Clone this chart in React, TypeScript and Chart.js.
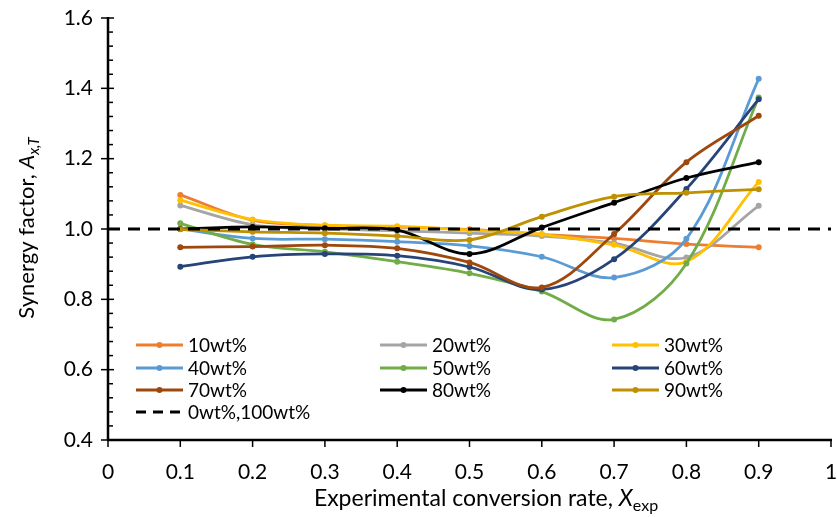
import React, { useEffect, useRef } from "react";
import { Chart, registerables } from "chart.js";

Chart.register(...registerables);

const xValues = [0.1, 0.2, 0.3, 0.4, 0.5, 0.6, 0.7, 0.8, 0.9];
const s10 = [1.097, 1.025, 1.010, 1.005, 0.999, 0.985, 0.973, 0.957, 0.948];
const s20 = [1.067, 1.012, 1.000, 0.995, 0.988, 0.980, 0.960, 0.919, 1.066];
const s30 = [1.082, 1.027, 1.011, 1.008, 0.997, 0.985, 0.955, 0.907, 1.134];
const s40 = [1.000, 0.973, 0.971, 0.964, 0.952, 0.921, 0.862, 0.972, 1.427];
const s50 = [1.016, 0.956, 0.935, 0.907, 0.874, 0.822, 0.743, 0.902, 1.374];
const s60 = [0.893, 0.921, 0.929, 0.924, 0.892, 0.828, 0.914, 1.114, 1.369];
const s70 = [0.948, 0.950, 0.954, 0.945, 0.905, 0.834, 0.986, 1.190, 1.322];
const s80 = [1.000, 1.006, 1.002, 0.997, 0.929, 1.004, 1.075, 1.145, 1.190];
const s90 = [0.999, 0.992, 0.988, 0.980, 0.969, 1.035, 1.092, 1.103, 1.113];
const refX = [0, 1];
const refY = [1.0, 1.0];

const seriesLabels = ["10wt%", "20wt%", "30wt%", "40wt%", "50wt%", "60wt%", "70wt%", "80wt%", "90wt%"];
const seriesData = [s10, s20, s30, s40, s50, s60, s70, s80, s90];
const seriesColors = ["#ED7D31", "#A5A5A5", "#FFC000", "#5B9BD5", "#70AD47", "#264478", "#9E480E", "#000000", "#BF9000"];
const refLabel = "0wt%,100wt%";

const FONT = "Lato, 'Open Sans', sans-serif";

const customPlugin = {
  id: "customAxesLegend",
  afterDraw(chart: any) {
    const ctx = chart.ctx;
    const ca = chart.chartArea;
    const xs = chart.scales.x;
    const ys = chart.scales.y;
    ctx.save();
    ctx.strokeStyle = "#000";
    ctx.lineCap = "butt";
    // axis lines
    ctx.lineWidth = 2.5;
    ctx.beginPath();
    ctx.moveTo(ca.left, ca.top - 1);
    ctx.lineTo(ca.left, ca.bottom);
    ctx.moveTo(ca.left - 1, ca.bottom);
    ctx.lineTo(ca.right + 1, ca.bottom);
    ctx.stroke();
    // y ticks
    ctx.lineWidth = 1.5;
    for (let i = 0; i <= 30; i++) {
      const v = 0.4 + i * 0.04;
      const py = ys.getPixelForValue(v);
      ctx.beginPath();
      if (i % 5 === 0) {
        ctx.moveTo(ca.left - 7, py);
        ctx.lineTo(ca.left + 6, py);
      } else {
        ctx.moveTo(ca.left, py);
        ctx.lineTo(ca.left + 5, py);
      }
      ctx.stroke();
    }
    // x ticks
    for (let i = 0; i <= 10; i++) {
      const px = xs.getPixelForValue(i / 10);
      ctx.beginPath();
      ctx.moveTo(px, ca.bottom);
      ctx.lineTo(px, ca.bottom + 7);
      ctx.stroke();
    }

    // x title
    ctx.fillStyle = "#000";
    ctx.textBaseline = "alphabetic";
    const xMain = "Experimental conversion rate, ";
    ctx.font = `23px ${FONT}`;
    const w1 = ctx.measureText(xMain).width;
    ctx.font = `italic 23px ${FONT}`;
    const w2 = ctx.measureText("X").width;
    ctx.font = `16px ${FONT}`;
    const w3 = ctx.measureText("exp").width;
    const total = w1 + w2 + w3;
    let sx = 486 - total / 2;
    const by = 506;
    ctx.textAlign = "left";
    ctx.font = `23px ${FONT}`;
    ctx.fillText(xMain, sx, by);
    ctx.font = `italic 23px ${FONT}`;
    ctx.fillText("X", sx + w1, by);
    ctx.font = `16px ${FONT}`;
    ctx.fillText("exp", sx + w1 + w2, by + 5);

    // y title
    ctx.save();
    ctx.translate(34, 228);
    ctx.rotate(-Math.PI / 2);
    const yMain = "Synergy factor, ";
    ctx.font = `22px ${FONT}`;
    const yw1 = ctx.measureText(yMain).width;
    ctx.font = `italic 22px ${FONT}`;
    const yw2 = ctx.measureText("A").width;
    ctx.font = `italic 15px ${FONT}`;
    const yw3 = ctx.measureText("x,T").width;
    const yt = yw1 + yw2 + yw3;
    const ysx = -yt / 2;
    ctx.font = `22px ${FONT}`;
    ctx.fillText(yMain, ysx, 0);
    ctx.font = `italic 22px ${FONT}`;
    ctx.fillText("A", ysx + yw1, 0);
    ctx.font = `italic 15px ${FONT}`;
    ctx.fillText("x,T", ysx + yw1 + yw2, 5);
    ctx.restore();

    // legend
    const colX = [136, 380, 612];
    const rowY = [345, 368, 390, 412];
    const lineLen = 47;
    ctx.font = `19px ${FONT}`;
    ctx.textBaseline = "middle";
    seriesLabels.forEach((lab, i) => {
      const c = i % 3;
      const r = Math.floor(i / 3);
      const x0 = colX[c];
      const y0 = rowY[r];
      ctx.strokeStyle = seriesColors[i];
      ctx.lineWidth = 3;
      ctx.beginPath();
      ctx.moveTo(x0, y0);
      ctx.lineTo(x0 + lineLen, y0);
      ctx.stroke();
      ctx.fillStyle = seriesColors[i];
      ctx.beginPath();
      ctx.arc(x0 + lineLen / 2, y0, 3, 0, Math.PI * 2);
      ctx.fill();
      ctx.fillStyle = "#000";
      ctx.fillText(lab, x0 + lineLen + 5, y0 + 1);
    });
    ctx.strokeStyle = "#000";
    ctx.lineWidth = 3;
    ctx.setLineDash([10, 7]);
    ctx.beginPath();
    ctx.moveTo(colX[0], rowY[3]);
    ctx.lineTo(colX[0] + lineLen, rowY[3]);
    ctx.stroke();
    ctx.setLineDash([]);
    ctx.fillStyle = "#000";
    ctx.fillText(refLabel, colX[0] + lineLen + 5, rowY[3] + 1);
    ctx.restore();
  },
};

export default function App() {
  const ref = useRef<HTMLCanvasElement | null>(null);
  useEffect(() => {
    document.body.style.margin = "0";
    const datasets: any[] = seriesData.map((arr, i) => ({
      label: seriesLabels[i],
      data: arr.map((y, j) => ({ x: xValues[j], y })),
      borderColor: seriesColors[i],
      backgroundColor: seriesColors[i],
      borderWidth: 2.75,
      pointRadius: 3,
      pointBorderWidth: 0,
      pointBackgroundColor: seriesColors[i],
      tension: 0.35,
      order: 20 - i,
    }));
    datasets.push({
      label: refLabel,
      data: refX.map((x, j) => ({ x, y: refY[j] })),
      borderColor: "#000",
      borderWidth: 3,
      borderDash: [12, 8],
      pointRadius: 0,
      tension: 0,
      order: 0,
    });
    const chart = new Chart(ref.current as HTMLCanvasElement, {
      type: "line",
      data: { datasets },
      options: {
        animation: false,
        responsive: false,
        layout: { padding: { top: 18, right: 6, left: 0, bottom: 0 } },
        plugins: { legend: { display: false }, tooltip: { enabled: false } },
        scales: {
          x: {
            type: "linear",
            min: 0,
            max: 1,
            grid: { display: false, drawTicks: false },
            border: { display: false },
            ticks: {
              stepSize: 0.1,
              padding: 20,
              color: "#000",
              font: { family: FONT, size: 21 },
              maxRotation: 0,
              autoSkip: false,
              callback: (v: any) => {
                const n = Math.round(Number(v) * 10) / 10;
                return n === 0 ? "0" : n === 1 ? "1" : n.toFixed(1);
              },
            },
            afterFit: (s: any) => {
              s.height = 77;
              s.paddingLeft = 0;
              s.paddingRight = 0;
            },
          },
          y: {
            type: "linear",
            min: 0.4,
            max: 1.6,
            grid: { display: false, drawTicks: false },
            border: { display: false },
            ticks: {
              stepSize: 0.2,
              padding: 15,
              color: "#000",
              font: { family: FONT, size: 21 },
              callback: (v: any) => Number(v).toFixed(1),
            },
            afterFit: (s: any) => {
              s.width = 108;
              s.paddingTop = 0;
              s.paddingBottom = 0;
            },
          },
        },
      },
      plugins: [customPlugin],
    });
    return () => chart.destroy();
  }, []);
  return (
    <div style={{ position: "absolute", left: 0, top: 0, width: 837, height: 517 }}>
      <canvas ref={ref} width={837} height={517} style={{ display: "block" }} />
    </div>
  );
}
